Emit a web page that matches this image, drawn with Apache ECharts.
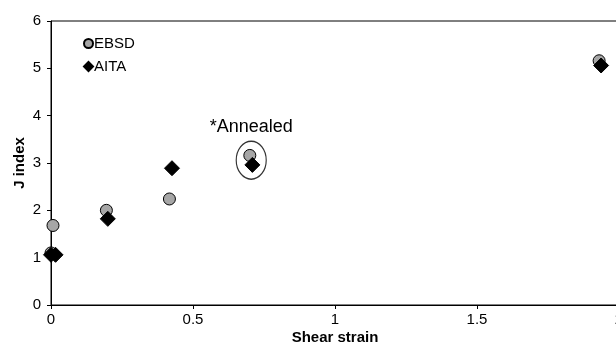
<!DOCTYPE html>
<html><head><meta charset="utf-8">
<script src="https://cdn.jsdelivr.net/npm/echarts@6/dist/echarts.min.js"></script>
<style>html,body{margin:0;padding:0;background:#fff}#c{width:616px;height:344px}</style>
</head><body><div id="c"></div>
<script>
// Data
var ebsdX = [0.0, 0.007, 0.195, 0.417, 0.70, 1.93];
var ebsdY = [1.1, 1.68, 2.0, 2.24, 3.16, 5.16];
var aitaX = [0.0, 0.016, 0.20, 0.426, 0.709, 1.937];
var aitaY = [1.06, 1.06, 1.82, 2.89, 2.96, 5.06];
var xTicks = [0, 0.5, 1, 1.5, 2];
var yTicks = [0, 1, 2, 3, 4, 5, 6];
var annotPoint = [0.705, 3.06];
var annotLabelPoint = [0.705, 3.77];
var annotText = '*Annealed';

function pairs(xs, ys){ return xs.map(function(x,i){ return [x, ys[i]]; }); }

var font = 'Liberation Sans, Arial, sans-serif';
var chart = echarts.init(document.getElementById('c'));
chart.setOption({
  animation: false,
  backgroundColor: '#fff',
  grid: { left: 51, top: 21, width: 568, bottom: 39, show: true, borderColor: '#000', borderWidth: 1,
          containLabel: false, outerBoundsMode: 'none' },
  legend: {
    orient: 'vertical', left: 83, top: 36, padding: 0,
    itemWidth: 9, itemHeight: 9, itemGap: 8,
    textStyle: { fontFamily: font, fontSize: 15, color: '#000', padding: [0,0,0,-4] },
    data: [{ name: 'EBSD', icon: 'circle' }, { name: 'AITA', icon: 'diamond' }]
  },
  xAxis: {
    type: 'value', min: xTicks[0], max: xTicks[xTicks.length-1], interval: 0.5,
    name: 'Shear strain', nameLocation: 'middle', nameGap: 25, nameMoveOverlap: false,
    nameTextStyle: { fontFamily: font, fontSize: 15, fontWeight: 'bold', color: '#000' },
    axisLine: { show: true, onZero: false, lineStyle: { color: '#000', width: 1 } },
    axisTick: { show: true, length: 4, lineStyle: { color: '#000' } },
    axisLabel: { fontFamily: font, fontSize: 15, color: '#000', margin: 7 },
    splitLine: { show: false }
  },
  yAxis: {
    type: 'value', min: yTicks[0], max: yTicks[yTicks.length-1], interval: 1,
    name: 'J index', nameLocation: 'middle', nameGap: 24, nameMoveOverlap: false,
    nameTextStyle: { fontFamily: font, fontSize: 15, fontWeight: 'bold', color: '#000' },
    axisLine: { show: true, onZero: false, lineStyle: { color: '#000', width: 1 } },
    axisTick: { show: true, length: 4, lineStyle: { color: '#000' } },
    axisLabel: { fontFamily: font, fontSize: 15, color: '#000', margin: 10 },
    splitLine: { show: false }
  },
  series: [
    { name: 'EBSD', type: 'scatter', symbol: 'circle', symbolSize: 12,
      itemStyle: { color: '#a6a6a6', borderColor: '#000', borderWidth: 1, opacity: 1 },
      data: pairs(ebsdX, ebsdY), z: 3 },
    { name: 'AITA', type: 'scatter', symbol: 'diamond', symbolSize: 15,
      itemStyle: { color: '#000', borderColor: '#000', borderWidth: 1, opacity: 1 },
      data: pairs(aitaX, aitaY), z: 4 },
    { name: 'annot', type: 'scatter', symbol: 'circle', symbolSize: [30, 38], silent: true,
      itemStyle: { color: 'rgba(0,0,0,0)', borderColor: '#000', borderWidth: 1.3 },
      data: [annotPoint], z: 5 },
    { name: 'annotLabel', type: 'scatter', symbolSize: 0, silent: true,
      label: { show: true, position: 'inside', formatter: annotText, fontFamily: font, fontSize: 18, color: '#000', opacity: 1 },
      data: [annotLabelPoint], z: 6 }
  ]
});
</script></body></html>
